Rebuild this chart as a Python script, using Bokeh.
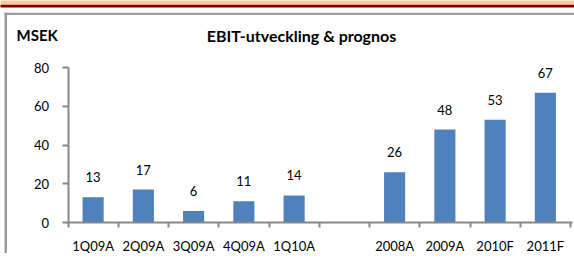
from bokeh.plotting import figure
from bokeh.models import ColumnDataSource, LabelSet, Label, FixedTicker, Range1d, BoxAnnotation
from bokeh.embed import file_html
from bokeh.resources import INLINE
from bokeh.core.properties import value

# ---- data ----
categories = ["1Q09A", "2Q09A", "3Q09A", "4Q09A", "1Q10A", "", "2008A", "2009A", "2010F", "2011F"]
ebit = [13, 17, 6, 11, 14, None, 26, 48, 53, 67]
y_ticks = [0, 20, 40, 60, 80]
title_text = "EBIT-utveckling & prognos"
unit_text = "MSEK"

# ---- layout constants (pixels of the canvas) ----
W, H = 574, 253
X0_PX, SLOT_PX = 67.5, 50.25          # x=0 position and width of one category slot
Y0_PX, Y80_PX = 222.0, 67.0           # pixel rows of y=0 and y=80
PX_PER_Y = (Y0_PX - Y80_PX) / (y_ticks[-1] - y_ticks[0])

def dx(px):
    return (px - X0_PX) / SLOT_PX

def dy(py):
    return (Y0_PX - py) / PX_PER_Y

FONT = "Lato"
GRAY = "#878787"
BLUE = "#4f81bd"

xs = [i + 0.5 for i, v in enumerate(ebit) if v is not None]
vals = [v for v in ebit if v is not None]
bar_src = ColumnDataSource(dict(x=xs, top=vals, lab=[str(v) for v in vals]))

p = figure(width=W, height=H, output_backend="svg", toolbar_location=None,
           x_range=Range1d(dx(0), dx(W)), y_range=Range1d(dy(H), dy(0)),
           min_border=0, min_border_left=0, min_border_right=0,
           min_border_top=0, min_border_bottom=0)
p.outline_line_color = None
p.grid.visible = False
p.background_fill_color = "white"
p.border_fill_color = "white"

p.vbar(x="x", top="top", width=0.42, bottom=0, source=bar_src, fill_color=BLUE, line_color=None)

# ---- y axis (placed at x = 0) ----
ya = p.yaxis[0]
ya.fixed_location = 0
ya.bounds = (y_ticks[0], y_ticks[-1])
ya.ticker = FixedTicker(ticks=y_ticks)
ya.axis_line_color = GRAY
ya.axis_line_width = 2
ya.major_tick_line_color = GRAY
ya.major_tick_line_width = 2
ya.major_tick_out = 6
ya.major_tick_in = 0
ya.minor_tick_line_color = None
ya.major_label_standoff = 13
ya.major_label_text_font = FONT
ya.major_label_text_font_size = "13px"
ya.major_label_text_color = "black"

# ---- x axis (placed at y = 0): labels at slot centres, ticks between slots ----
n = len(categories)
xa = p.xaxis[0]
xa.fixed_location = 0
xa.bounds = (0, dx(572))
xa.ticker = FixedTicker(ticks=[i + 0.5 for i in range(n)], minor_ticks=list(range(n + 1)))
xa.major_label_overrides = {i + 0.5: c for i, c in enumerate(categories)}
xa.axis_line_color = GRAY
xa.axis_line_width = 2
xa.major_tick_line_color = None
xa.major_tick_out = 5
xa.major_tick_in = 0
xa.minor_tick_line_color = GRAY
xa.minor_tick_line_width = 2
xa.minor_tick_out = 5
xa.minor_tick_in = 0
xa.major_label_standoff = 10
xa.major_label_text_font = FONT
xa.major_label_text_font_size = "13px"
xa.major_label_text_color = "black"

# ---- value labels ----
p.add_layout(LabelSet(x="x", y="top", text="lab", source=bar_src, y_offset=20,
                      text_align="center", text_baseline="middle",
                      text_font=value(FONT), text_font_size=value("13px"), text_color="black"))

# ---- titles ----
p.add_layout(Label(x=dx(301), y=dy(34.5), text=title_text, text_align="center",
                   text_baseline="alphabetic", text_font=FONT, text_font_size="16px",
                   text_font_style="bold", text_color="black"))
p.add_layout(Label(x=dx(16), y=dy(34.5), text=unit_text, text_align="left",
                   text_baseline="alphabetic", text_font=FONT, text_font_size="15px",
                   text_font_style="bold", text_color="black"))

# ---- decorative page band and chart frame ----
p.add_layout(BoxAnnotation(left=dx(-30), right=dx(W + 30), bottom=dy(4.3), top=dy(-30),
                           fill_color="#fdca96", fill_alpha=1, line_color=None, line_alpha=0))
p.add_layout(BoxAnnotation(left=dx(-30), right=dx(W + 30), bottom=dy(7), top=dy(4.3),
                           fill_color="#800000", fill_alpha=1, line_color=None, line_alpha=0))
p.add_layout(BoxAnnotation(left=dx(4), right=dx(W + 30), bottom=dy(14.5), top=dy(12.3),
                           fill_color="#9c9c9c", fill_alpha=1, line_color=None, line_alpha=0))
p.add_layout(BoxAnnotation(left=dx(4), right=dx(6.5), bottom=dy(H + 30), top=dy(12.3),
                           fill_color="#9c9c9c", fill_alpha=1, line_color=None, line_alpha=0))

open("out.html", "w").write(file_html(p, INLINE))
